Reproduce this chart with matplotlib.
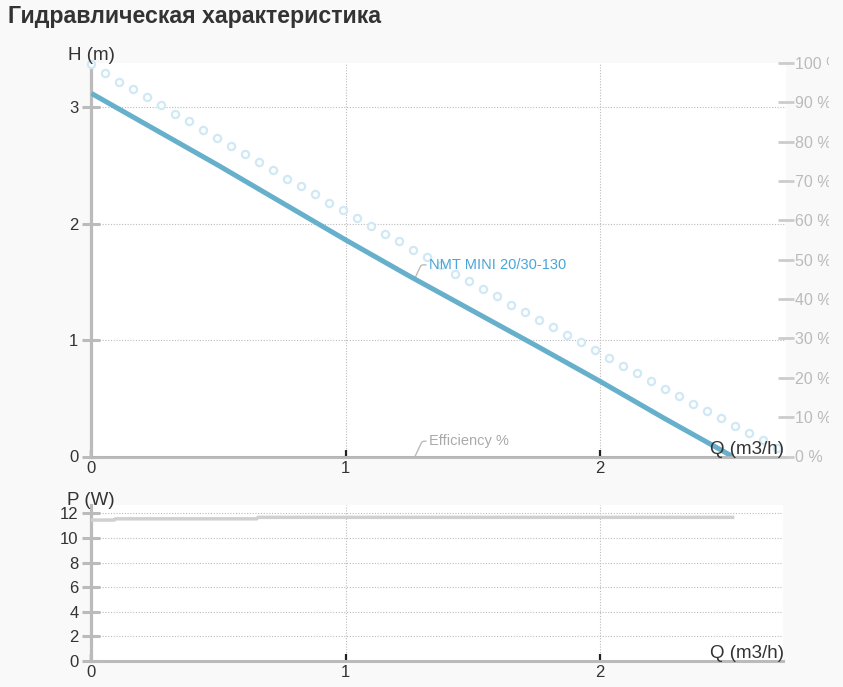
import matplotlib
matplotlib.use('Agg')
import matplotlib.pyplot as plt
from matplotlib.transforms import Bbox, TransformedBbox

plt.rcParams['font.family'] = ['Liberation Sans', 'DejaVu Sans']

# pump curve H(Q)
q_head = [0.0, 0.25, 0.5, 0.75, 1.0, 1.25, 1.5, 1.75, 2.0, 2.25, 2.52]
head = [3.12, 2.81, 2.50, 2.18, 1.86, 1.55, 1.25, 0.95, 0.645, 0.33, 0.0]

# dotted (circle) curve
q_circ = [0.0, 0.055, 0.11, 0.165, 0.22, 0.275, 0.33, 0.385, 0.44, 0.495,
          0.55, 0.605, 0.66, 0.715, 0.77, 0.825, 0.88, 0.935, 0.99, 1.045,
          1.10, 1.155, 1.21, 1.265, 1.32, 1.375, 1.43, 1.485, 1.54, 1.595,
          1.65, 1.705, 1.76, 1.815, 1.87, 1.925, 1.98, 2.035, 2.09, 2.145,
          2.20, 2.255, 2.31, 2.365, 2.42, 2.475, 2.53, 2.585, 2.64, 2.695]
h_circ = [3.369, 3.297, 3.220, 3.157, 3.086, 3.020, 2.945, 2.882, 2.805, 2.739,
          2.665, 2.599, 2.527, 2.461, 2.387, 2.324, 2.255, 2.180, 2.118, 2.046,
          1.980, 1.914, 1.849, 1.774, 1.714, 1.645, 1.570, 1.508, 1.442, 1.376,
          1.302, 1.239, 1.173, 1.110, 1.046, 0.981, 0.915, 0.844, 0.780, 0.715,
          0.649, 0.582, 0.520, 0.454, 0.393, 0.328, 0.262, 0.199, 0.139, 0.070]

# efficiency (%)
q_eff = [0.0, 2.52]
eff = [0.0, 0.0]

# power P(Q)
q_power = [0.0, 0.09, 0.095, 0.65, 0.655, 2.52]
power = [11.46, 11.46, 11.56, 11.56, 11.68, 11.68]

h_ticks = [0, 1, 2, 3]
p_ticks = [0, 2, 4, 6, 8, 10, 12]
pct_ticks = [0, 10, 20, 30, 40, 50, 60, 70, 80, 90, 100]
q_ticks = [0, 1, 2]

W, H = 843, 687
BG = '#f9f9f9'
AXIS_GREY = '#bbbbbb'
TEXT = '#333333'
BLUE = '#67b0cc'


def style_axes(ax, yticks):
    ax.set_facecolor('white')
    for side in ('top', 'right'):
        ax.spines[side].set_visible(False)
    ax.spines['left'].set_color(AXIS_GREY)
    ax.spines['left'].set_linewidth(2.3)
    ax.spines['bottom'].set_color(AXIS_GREY)
    ax.spines['bottom'].set_linewidth(2.2)
    ax.set_xticks(q_ticks)
    ax.set_yticks(yticks)
    ax.tick_params(axis='x', direction='in', length=5, width=1.6, color='#222222',
                   labelsize=12, labelcolor=TEXT, pad=3)
    ax.tick_params(axis='y', direction='inout', length=12.5, width=2.2, color=AXIS_GREY,
                   labelsize=12, labelcolor=TEXT, pad=3)
    ax.grid(True, linestyle=(0, (1, 1.5)), color='#bbbbbb', linewidth=0.8)
    ax.set_axisbelow(True)


fig = plt.figure(figsize=(W / 100, H / 100), dpi=100, facecolor=BG)

# --- head chart ---
ax = fig.add_axes([91.3 / W, (H - 456.5) / H, 694.7 / W, 393.5 / H])
style_axes(ax, h_ticks)
ax.set_xlim(0, 2.73)
ax.set_ylim(0, 393.5 / 116.4)

ax.plot(q_circ, h_circ, linestyle='none', marker='o', ms=5.2, mew=1.6,
        mfc='white', mec='#d0e9f5', clip_on=False, zorder=3)
ax.plot(q_head, head, color=BLUE, linewidth=3.6, solid_capstyle='butt', zorder=4)
ax.plot(q_eff, eff, color='#b5b5b5', linewidth=2, zorder=4)

ax.annotate('NMT MINI 20/30-130', xy=(1.272, 1.533), xytext=(10, 9.5),
            textcoords='offset points', fontsize=10.5, color='#4aa6d6', va='center',
            arrowprops=dict(arrowstyle='-', color='#bbbbbb', lw=1,
                            connectionstyle='angle,angleA=0,angleB=65,rad=2',
                            shrinkA=0, shrinkB=0))
ax.annotate('Efficiency %', xy=(1.272, 0.0), xytext=(10, 11),
            textcoords='offset points', fontsize=10.5, color='#aaaaaa', va='center',
            arrowprops=dict(arrowstyle='-', color='#bbbbbb', lw=1,
                            connectionstyle='angle,angleA=0,angleB=65,rad=2',
                            shrinkA=0, shrinkB=0))

# right efficiency axis
ax2 = ax.twinx()
for side in ax2.spines:
    ax2.spines[side].set_visible(False)
ax2.set_ylim(0, 100)
ax2.set_yticks(pct_ticks)
ax2.set_yticklabels([f'{v} %' for v in pct_ticks])
ax2.tick_params(axis='y', direction='inout', length=11.5, width=2, color='#cccccc',
                labelsize=11.5, labelcolor='#bbbbbb', pad=1)
# the chart container cuts the labels off on the right
clip = TransformedBbox(Bbox([[0, 0], [829 / W, 1]]), fig.transFigure)
for lbl in ax2.get_yticklabels():
    lbl.set_clip_box(clip)
    lbl.set_clip_on(True)

fig.text(68 / W, 1 - 60.5 / H, 'H (m)', fontsize=13.5, color=TEXT, va='baseline')
fig.text(784 / W, 1 - 454 / H, 'Q (m3/h)', fontsize=13.5, color=TEXT,
         ha='right', va='baseline')

# --- power chart ---
bx = fig.add_axes([91.3 / W, (H - 661) / H, 691.7 / W, 156 / H])
style_axes(bx, p_ticks)
bx.set_xlim(0, 2.718)
bx.set_ylim(0, 156 / 12.3)
bx.plot(q_power, power, color='#d0d0d0', linewidth=2.5, zorder=4)

fig.text(67 / W, 1 - 505 / H, 'P (W)', fontsize=13.5, color=TEXT, va='baseline')
fig.text(784 / W, 1 - 658 / H, 'Q (m3/h)', fontsize=13.5, color=TEXT,
         ha='right', va='baseline')

fig.text(8 / W, 1 - 23.3 / H, 'Гидравлическая характеристика', fontsize=16.7,
         fontweight='bold', color=TEXT, va='baseline')

fig.savefig('out.png', dpi=100, facecolor=BG)
